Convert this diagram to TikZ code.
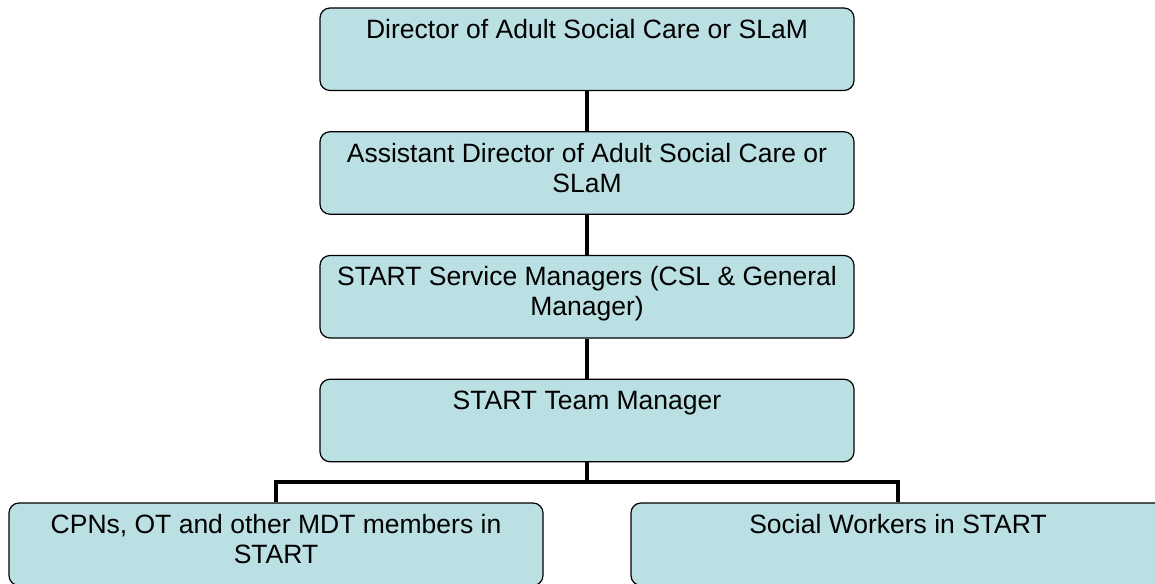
\documentclass[tikz,border=0pt]{standalone}
\usepackage{fontspec}
\setmainfont{Liberation Sans}

\definecolor{unitfill}{RGB}{187,224,227}
\newcommand{\unittext}[1]{\parbox[c][82.5pt][t]{534pt}{\centering\fontsize{26.5}{30}\selectfont\rule{0pt}{30.5pt}#1}}

\tikzset{
  unit/.style={draw=black, line width=1.2pt, fill=unitfill, rounded corners=10pt, inner sep=0pt, minimum width=534pt, minimum height=82.5pt},
  link/.style={black, line width=4.5pt}
}

\begin{document}
\begin{tikzpicture}[x=1pt, y=1pt]

\useasboundingbox (0,0) rectangle (1155,583);

\node (director) at (587, 533.75) [unit] {\unittext{Director of Adult Social Care or SLaM}};
\node (assistant) at (587, 410) [unit] {\unittext{Assistant Director of Adult Social Care or\\SLaM}};
\node (managers) at (587, 286.25) [unit] {\unittext{START Service Managers (CSL \& General\\Manager)}};
\node (team) at (587, 162.5) [unit] {\unittext{START Team Manager}};

\node (cpns) at (276, 38.75) [unit] {\unittext{CPNs, OT and other MDT members in\\START}};
\node (social) at (898, 38.75) [unit] {\unittext{Social Workers in START}};

\coordinate (bus) at (587, 101);

\draw [link] (director) -- (assistant);
\draw [link] (assistant) -- (managers);
\draw [link] (managers) -- (team);
\draw [link] (team) -- (bus);
\draw [link] (cpns.north) |- (bus) -| (social.north);

\end{tikzpicture}
\end{document}
